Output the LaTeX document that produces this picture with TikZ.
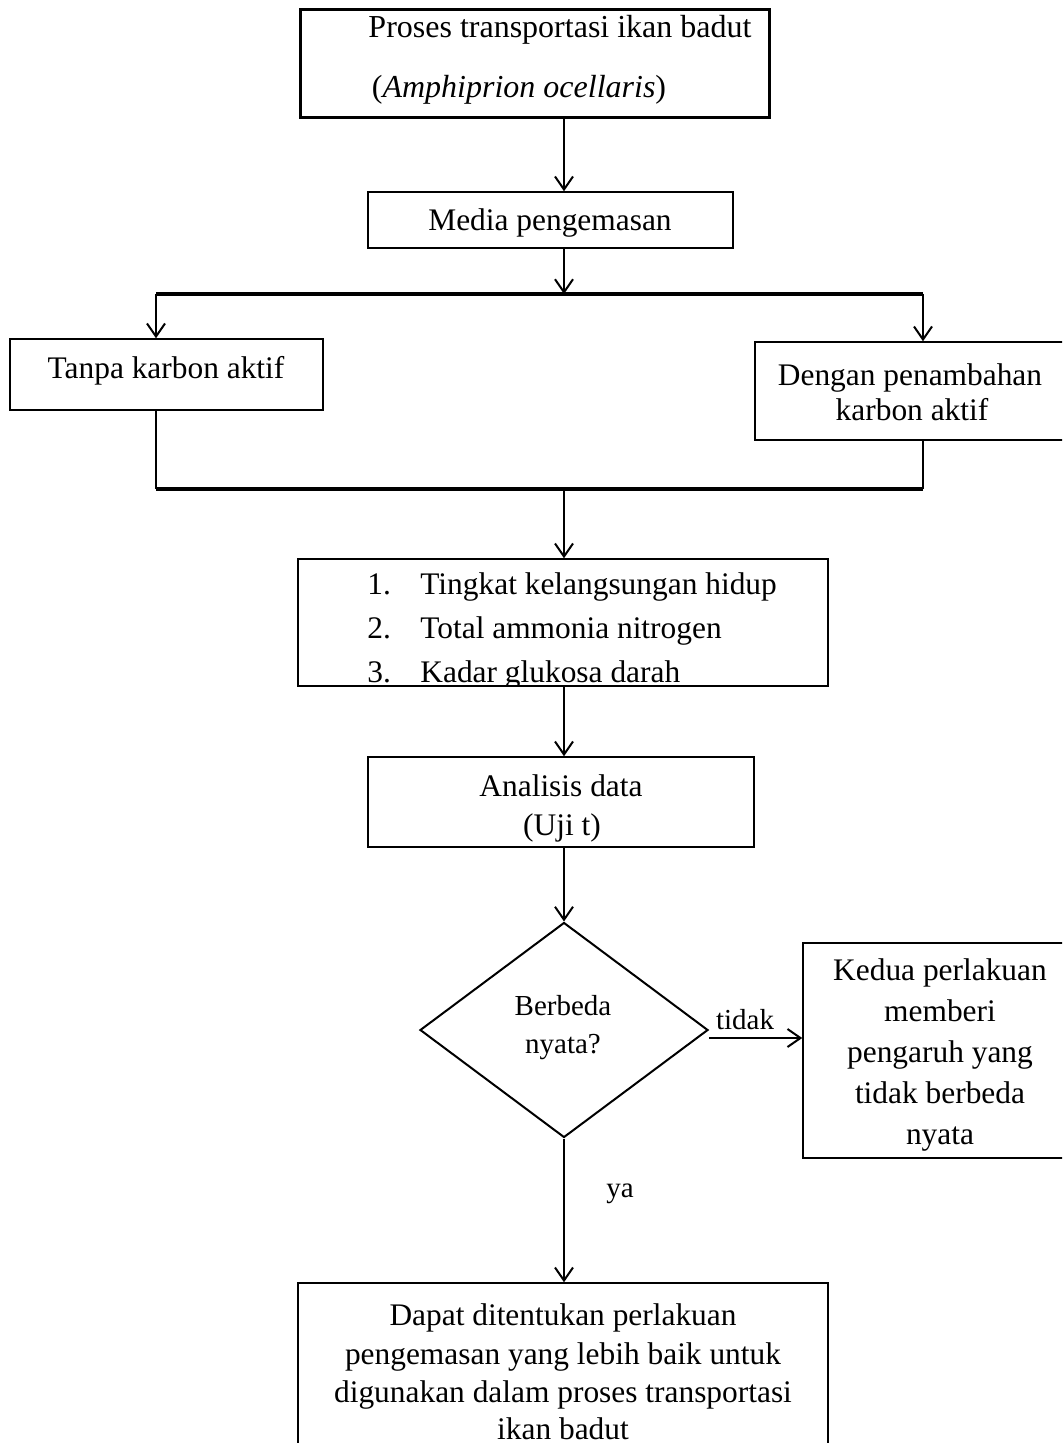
\documentclass[tikz,border=0pt]{standalone}
\usepackage{fontspec}
\setmainfont{Liberation Serif}
\usetikzlibrary{arrows.meta,fit,shapes.geometric}
\begin{document}
\begin{tikzpicture}[x=0.5pt,y=-0.5pt,
  box/.style={draw, inner sep=0pt, line width=0.75pt},
  thickbox/.style={draw, inner sep=0pt, line width=1.5pt},
  txt/.style={anchor=base, inner sep=0pt, font=\fontsize{15.7}{18}\selectfont},
  btxt/.style={anchor=base, inner sep=0pt, font=\fontsize{16}{19}\selectfont},
  ltxt/.style={anchor=base west, inner sep=0pt, font=\fontsize{15.7}{18}\selectfont},
  stxt/.style={anchor=base, inner sep=0pt, font=\fontsize{14.5}{17}\selectfont},
  arr/.style={line width=1pt, -{Straight Barb[length=6.5pt,width=9pt]}},
  conn/.style={line width=1pt},
  bar/.style={line width=1.8pt},
]
\useasboundingbox (0,0) rectangle (1062,1443);
\clip (0,0) rectangle (1062,1443);

% boxes
\node[thickbox, fit={(300,10) (769,118)}] (b1) {};
\node[box, fit={(368,192) (733,248)}] (b2) {};
\node[box, fit={(10,339) (323,410)}] (tanpa) {};
\node[box, fit={(755,342) (1090,440)}] (dengan) {};
\node[box, fit={(368,757) (754,847)}] (ana) {};
\node[draw, diamond, line width=1pt, minimum width=144pt, minimum height=107.5pt, inner sep=0pt] (dia) at (564,1030) {};
\node[box, fit={(803,943) (1090,1158)}] (kedua) {};
\node[box, fit={(298,1283) (828,1480)}] (final) {};

% list box with clipped text
\begin{scope}
  \clip (298,559) rectangle (828,686);
  \node[ltxt] (n1) at (367,594) {1.};
  \node[ltxt] (l1) at (420,594) {Tingkat kelangsungan hidup};
  \node[ltxt] (n2) at (367,638) {2.};
  \node[ltxt] (l2) at (420,638) {Total ammonia nitrogen};
  \node[ltxt] (n3) at (367,682) {3.};
  \node[ltxt] (l3) at (420,682) {Kadar glukosa darah};
\end{scope}
\node[box, fit={(298,559) (828,686)}] (list) {};

% texts
\node[btxt] (t1a) at (560,38) {Proses transportasi ikan badut};
\node[btxt] (t1b) at (519,98) {(\textit{Amphiprion ocellaris})};
\node[txt] (t2) at (550,231) {Media pengemasan};
\node[txt] (t3) at (166,379) {Tanpa karbon aktif};
\node[txt] (t4a) at (910,386) {Dengan penambahan};
\node[txt] (t4b) at (912,421) {karbon aktif};
\node[txt] (t5a) at (561,796) {Analisis data};
\node[txt] (t5b) at (562,835) {(Uji t)};
\node[stxt] (t6a) at (563,1015) {Berbeda};
\node[stxt] (t6b) at (563,1053) {nyata?};
\node[txt] (k1) at (940,980) {Kedua perlakuan};
\node[txt] (k2) at (940,1021) {memberi};
\node[txt] (k3) at (940,1062) {pengaruh yang};
\node[txt] (k4) at (940,1103) {tidak berbeda};
\node[txt] (k5) at (940,1144) {nyata};
\node[txt] (f1) at (563,1325) {Dapat ditentukan perlakuan};
\node[txt] (f2) at (563,1364) {pengemasan yang lebih baik untuk};
\node[txt] (f3) at (563,1402) {digunakan dalam proses transportasi};
\node[txt] (f4) at (563,1439) {ikan badut};
\node[stxt] (tidak) at (745,1029) {tidak};
\node[stxt] (ya) at (620,1197) {ya};

% coordinates
\coordinate (col) at (564,0);
\coordinate (tl) at (156,294);
\coordinate (tr) at (923,294);
\coordinate (bl) at (156,489);
\coordinate (br) at (923,489);
\coordinate (ty) at (0,1038);

% connectors
\draw[arr] (col |- b1.south) -- (col |- b2.north);
\draw[arr] (col |- b2.south) -- (col |- tl);
\draw[bar] (tl) -- (tr);
\draw[arr] (tl) -- (tl |- tanpa.north);
\draw[arr] (tr) -- (tr |- dengan.north);
\draw[conn] (tanpa.south -| tl) -- (bl);
\draw[conn] (dengan.south -| tr) -- (br);
\draw[bar] (bl) -- (br);
\draw[arr] (col |- bl) -- (col |- list.north);
\draw[arr] (col |- list.south) -- (col |- ana.north);
\draw[arr] (col |- ana.south) -- (dia.north);
\draw[arr] (dia.east |- ty) -- (kedua.west |- ty);
\draw[arr] (dia.south) -- (col |- final.north);
\end{tikzpicture}
\end{document}
